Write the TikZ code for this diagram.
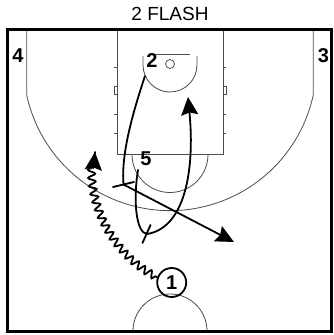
\documentclass[tikz,border=0pt]{standalone}
\usepackage{fontspec}
\setmainfont{Liberation Sans}
\usetikzlibrary{arrows.meta,decorations.pathmorphing}
\begin{document}
\begin{tikzpicture}[x=1pt,y=1pt,
  court/.style={line width=0.8pt, draw=black!70},
  move/.style={line width=1.8pt, draw=black, line cap=round},
  tipped/.style={-{Stealth[length=18pt,width=17pt,inset=2.5pt]}},
  lbl/.style={font=\fontsize{20}{20}\selectfont\bfseries, inner sep=0pt},
  dribble/.style={decorate, decoration={snake, amplitude=3.6pt, segment length=8pt, pre length=2pt, post length=8pt}}]
\useasboundingbox (0,0) rectangle (333,-335);

% title
\node[inner sep=0pt] (title) at (170,-14) {\fontsize{19}{19}\selectfont 2 FLASH};

% court
\draw[court] (117,-29.5) rectangle (223,-154.5);
\draw[court] (26.7,-29.5) -- (26.7,-95) arc[start angle=192.2, end angle=347.8, radius=146.6] -- (313.3,-29.5);
\draw[court] (143,-56) -- (143,-65) arc[start angle=180, end angle=360, radius=27] -- (197,-56);
\draw[court] (150,-54) -- (190,-54);
\draw[court] (170,-64) circle[radius=4.5];
\draw[court] (132,-154.5) arc[start angle=180, end angle=360, radius=38];
\draw[court] (207,-331) arc[start angle=0, end angle=180, radius=37];
\foreach \yy in {67,114,133} {
  \draw[court] (114,-\yy) -- (117,-\yy);
  \draw[court] (223,-\yy) -- (226,-\yy);
}
\draw[court] (114,-86) rectangle (117,-94.5);
\draw[court] (223,-86) rectangle (226,-94.5);

% border
\draw[line width=3pt] (7.5,-29.5) rectangle (331.5,-331);

% players
\node[lbl] (p4) at (18,-55.5) {4};
\node[lbl] (p3) at (323.5,-55.5) {3};
\node[lbl] (p2) at (152,-61) {2};
\node[lbl] (p5) at (146,-158.5) {5};
\node[lbl, draw, circle, line width=1.8pt, minimum size=29pt] (p1) at (171.7,-282.5) {1};

% movement coordinates
\coordinate (c2) at (145,-76);
\coordinate (s1) at (123.5,-184.5);
\coordinate (s1a) at (113,-187);
\coordinate (s1b) at (134,-182);
\coordinate (d1) at (234,-242);
\coordinate (c5) at (138,-170);
\coordinate (s2) at (147,-234);
\coordinate (s2a) at (142.5,-243);
\coordinate (s2b) at (150.5,-225);
\coordinate (e5) at (188,-97);
\coordinate (e1) at (95,-152);
\coordinate (e1b) at (93.5,-168);

% 2 cuts down and screens, then slips
\draw[move] (c2) .. controls (132,-115) and (121,-155) .. (s1);
\draw[move] (s1a) -- (s1b);
\draw[move, tipped] (s1) -- (d1);

% 5 screens and rolls to the basket
\draw[move] (c5) .. controls (133,-200) and (136,-233) .. (s2);
\draw[move] (s2a) -- (s2b);
\draw[move, tipped] (s2) .. controls (185,-228) and (195,-170) .. (e5);

% 1 dribbles
\draw[move, dribble] (p1.160) .. controls (118,-258) and (85,-205) .. (e1);
\draw[move, tipped] (e1b) -- (e1);
\end{tikzpicture}
\end{document}
